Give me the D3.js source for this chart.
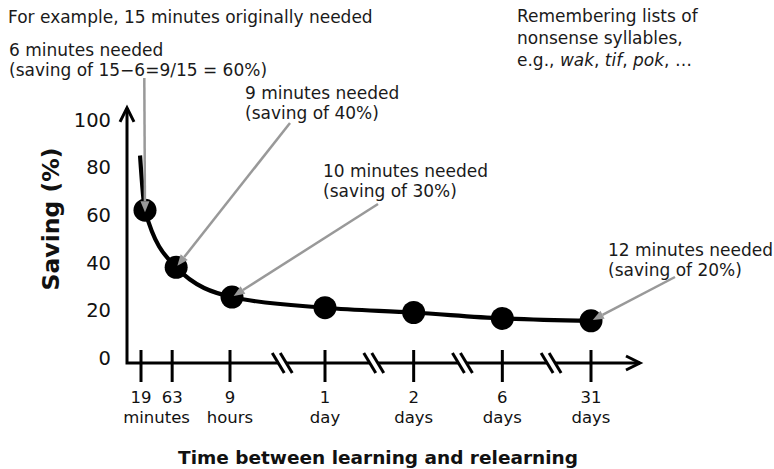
<!DOCTYPE html>
<html><head><meta charset="utf-8">
<script src="https://cdn.jsdelivr.net/npm/d3@7"></script>
<style>
html,body{margin:0;padding:0;background:#fff;}
svg{display:block;font-family:"DejaVu Sans",Verdana,sans-serif;}
</style></head>
<body><svg id="chart" width="774" height="469"></svg>
<script>
// ---------- data ----------
const intervals = ["19 minutes","63 minutes","9 hours","1 day","2 days","6 days","31 days"];
const intervalMinutes = [19, 63, 540, 1440, 2880, 8640, 44640];
const savingPct = [62, 38, 25.5, 21, 19, 16.5, 15.5];
const leadInMinutes = 15.7;   // curve lead-in before first measurement
const leadInSaving = 85;
const tickNumbers = ["19","63","9","1","2","6","31"];
const unitLabels = ["minutes","hours","day","days","days","days"];
const unitGroups = [[0,1],[2],[3],[4],[5],[6]];
const yTickValues = [0,20,40,60,80,100];
const annotations = [
  {lines:["6 minutes needed","(saving of 15\u22126=9/15 = 60%)"], target:0},
  {lines:["9 minutes needed","(saving of 40%)"], target:1},
  {lines:["10 minutes needed","(saving of 30%)"], target:2},
  {lines:["12 minutes needed","(saving of 20%)"], target:6}
];
const headerText = "For example, 15 minutes originally needed";
const noteLines = [["Remembering lists of"],["nonsense syllables,"],["e.g., ", "wak", ", ", "tif", ", ", "pok", ", \u2026"]];
const xTitle = "Time between learning and relearning";
const yTitle = "Saving (%)";

// ---------- scales ----------
const svg = d3.select("#chart");
const y = d3.scaleLinear().domain([0,100]).range([357.7,119.8]);
const xShort = d3.scaleLog().domain([19,540]).range([145,232]);
const xLong = d3.scalePoint().domain(intervalMinutes.slice(3)).range([325,591]);
const x = m => m <= 540 ? xShort(m) : xLong(m);

const axisY = y(0) + 5.3;
const axisX0 = 127;
const axisXEnd = 640;
const axisYTop = y(105);

const ink = "#000";
const grey = "#999";

// ---------- axes ----------
const axG = svg.append("g").attr("stroke", ink).attr("stroke-width", 3).attr("fill","none");
axG.append("path").attr("d", `M${axisX0},${axisYTop} L${axisX0},${axisY} L${axisXEnd},${axisY}`)
  .attr("stroke-linejoin","miter");
// arrowheads
axG.append("path").attr("d", `M${axisX0-7},${axisYTop+14} L${axisX0},${axisYTop} L${axisX0+7},${axisYTop+14}`);
axG.append("path").attr("d", `M${axisXEnd-14},${axisY-7} L${axisXEnd},${axisY} L${axisXEnd-14},${axisY+7}`);

// x ticks
const tickX = intervalMinutes.map((m,i) => i < 3 ? x(m) - (i<2?4:2) : x(m));
axG.selectAll("line.tick").data(tickX).join("line").attr("class","tick")
  .attr("x1", d=>d).attr("x2", d=>d).attr("y1", axisY-13).attr("y2", axisY+19);

// axis breaks
for (let i = 2; i < tickX.length-1; i++) {
  const bx = tickX[i] + (tickX[i+1]-tickX[i]) * 0.55;
  svg.append("path").attr("d", `M${bx-8},${axisY-10} L${bx+0},${axisY-10} L${bx+9},${axisY+10} L${bx+1},${axisY+10} Z`)
    .attr("fill","#fff");
  [-4,4].forEach(o => svg.append("line")
    .attr("x1", bx+o-6).attr("y1", axisY-10).attr("x2", bx+o+6).attr("y2", axisY+10)
    .attr("stroke", ink).attr("stroke-width", 3));
}

// x tick labels
svg.append("g").selectAll("text").data(tickNumbers).join("text")
  .attr("x",(d,i)=>tickX[i]).attr("y",403).attr("text-anchor","middle")
  .attr("font-size",16.5).attr("fill","#111").text(d=>d);
svg.append("g").selectAll("text").data(unitLabels).join("text")
  .attr("x",(d,i)=>d3.mean(unitGroups[i], j=>tickX[j])).attr("y",423).attr("text-anchor","middle")
  .attr("font-size",16.5).attr("fill","#111").text(d=>d);

// y tick labels
svg.append("g").selectAll("text").data(yTickValues).join("text")
  .attr("x",111).attr("y",d=>y(d)).attr("dy","0.36em").attr("text-anchor","end")
  .attr("font-size",19.5).attr("fill","#111").text(d=>d);

// titles
svg.append("text").attr("x",378).attr("y",464).attr("text-anchor","middle")
  .attr("font-size",18.5).attr("font-weight","bold").attr("fill","#111").text(xTitle);
svg.append("text").attr("transform","translate(59,219) rotate(-90)").attr("text-anchor","middle")
  .attr("font-size",23.5).attr("font-weight","bold").attr("fill","#111").text(yTitle);

// ---------- curve & points ----------
const pts = intervalMinutes.map((m,i)=>({m, v:savingPct[i]}));
const curvePts = [{m:leadInMinutes, v:leadInSaving}, ...pts];
svg.append("path").datum(curvePts)
  .attr("d", d3.line().x(d=>x(d.m)).y(d=>y(d.v)).curve(d3.curveMonotoneX))
  .attr("fill","none").attr("stroke",ink).attr("stroke-width",4.2).attr("stroke-linecap","butt");
svg.append("g").selectAll("circle").data(pts).join("circle")
  .attr("cx",d=>x(d.m)).attr("cy",d=>y(d.v)).attr("r",11.5).attr("fill",ink);

// ---------- annotations ----------
const textCol = "#1a1a1a";
svg.append("text").attr("x",8).attr("y",22.5).attr("font-size",17).attr("fill",textCol).text(headerText);

const annoPos = [
  {tx:9, ty:55.5, lx:144.3, ly:78},
  {tx:245, ty:98.5, lx:290, ly:123},
  {tx:323, ty:176.7, lx:378, ly:204},
  {tx:608, ty:255.5, lx:675, ly:277}
];
annotations.forEach((a,k) => {
  const p = annoPos[k];
  a.lines.forEach((ln,j) => svg.append("text").attr("x",p.tx).attr("y",p.ty + j*20.5)
    .attr("font-size",17).attr("fill",textCol).text(ln));
  const d = pts[a.target];
  const cx = x(d.m), cy = y(d.v);
  // arrow pointing into the dot
  const ang = Math.atan2(cy - p.ly, cx - p.lx);
  const tipX = cx - Math.cos(ang)*2 + (k===0?0:0), tipY = cy - Math.sin(ang)*2 + (k===0?4:0);
  const headLen = 11, headW = 4.5;
  const bx = tipX - Math.cos(ang)*headLen, by = tipY - Math.sin(ang)*headLen;
  svg.append("line").attr("x1",p.lx).attr("y1",p.ly).attr("x2",bx).attr("y2",by)
    .attr("stroke",grey).attr("stroke-width",2.5);
  svg.append("path").attr("d",
    `M${tipX},${tipY} L${bx - Math.sin(ang)*headW},${by + Math.cos(ang)*headW} L${bx + Math.sin(ang)*headW},${by - Math.cos(ang)*headW} Z`)
    .attr("fill",grey);
});

// note at top right
noteLines.forEach((parts,j) => {
  const t = svg.append("text").attr("x",517).attr("y",21.7 + j*22).attr("font-size",17).attr("fill",textCol);
  parts.forEach((s,i) => t.append("tspan").attr("font-style", (j===2 && i%2===1) ? "italic" : "normal").text(s));
});
</script></body></html>
